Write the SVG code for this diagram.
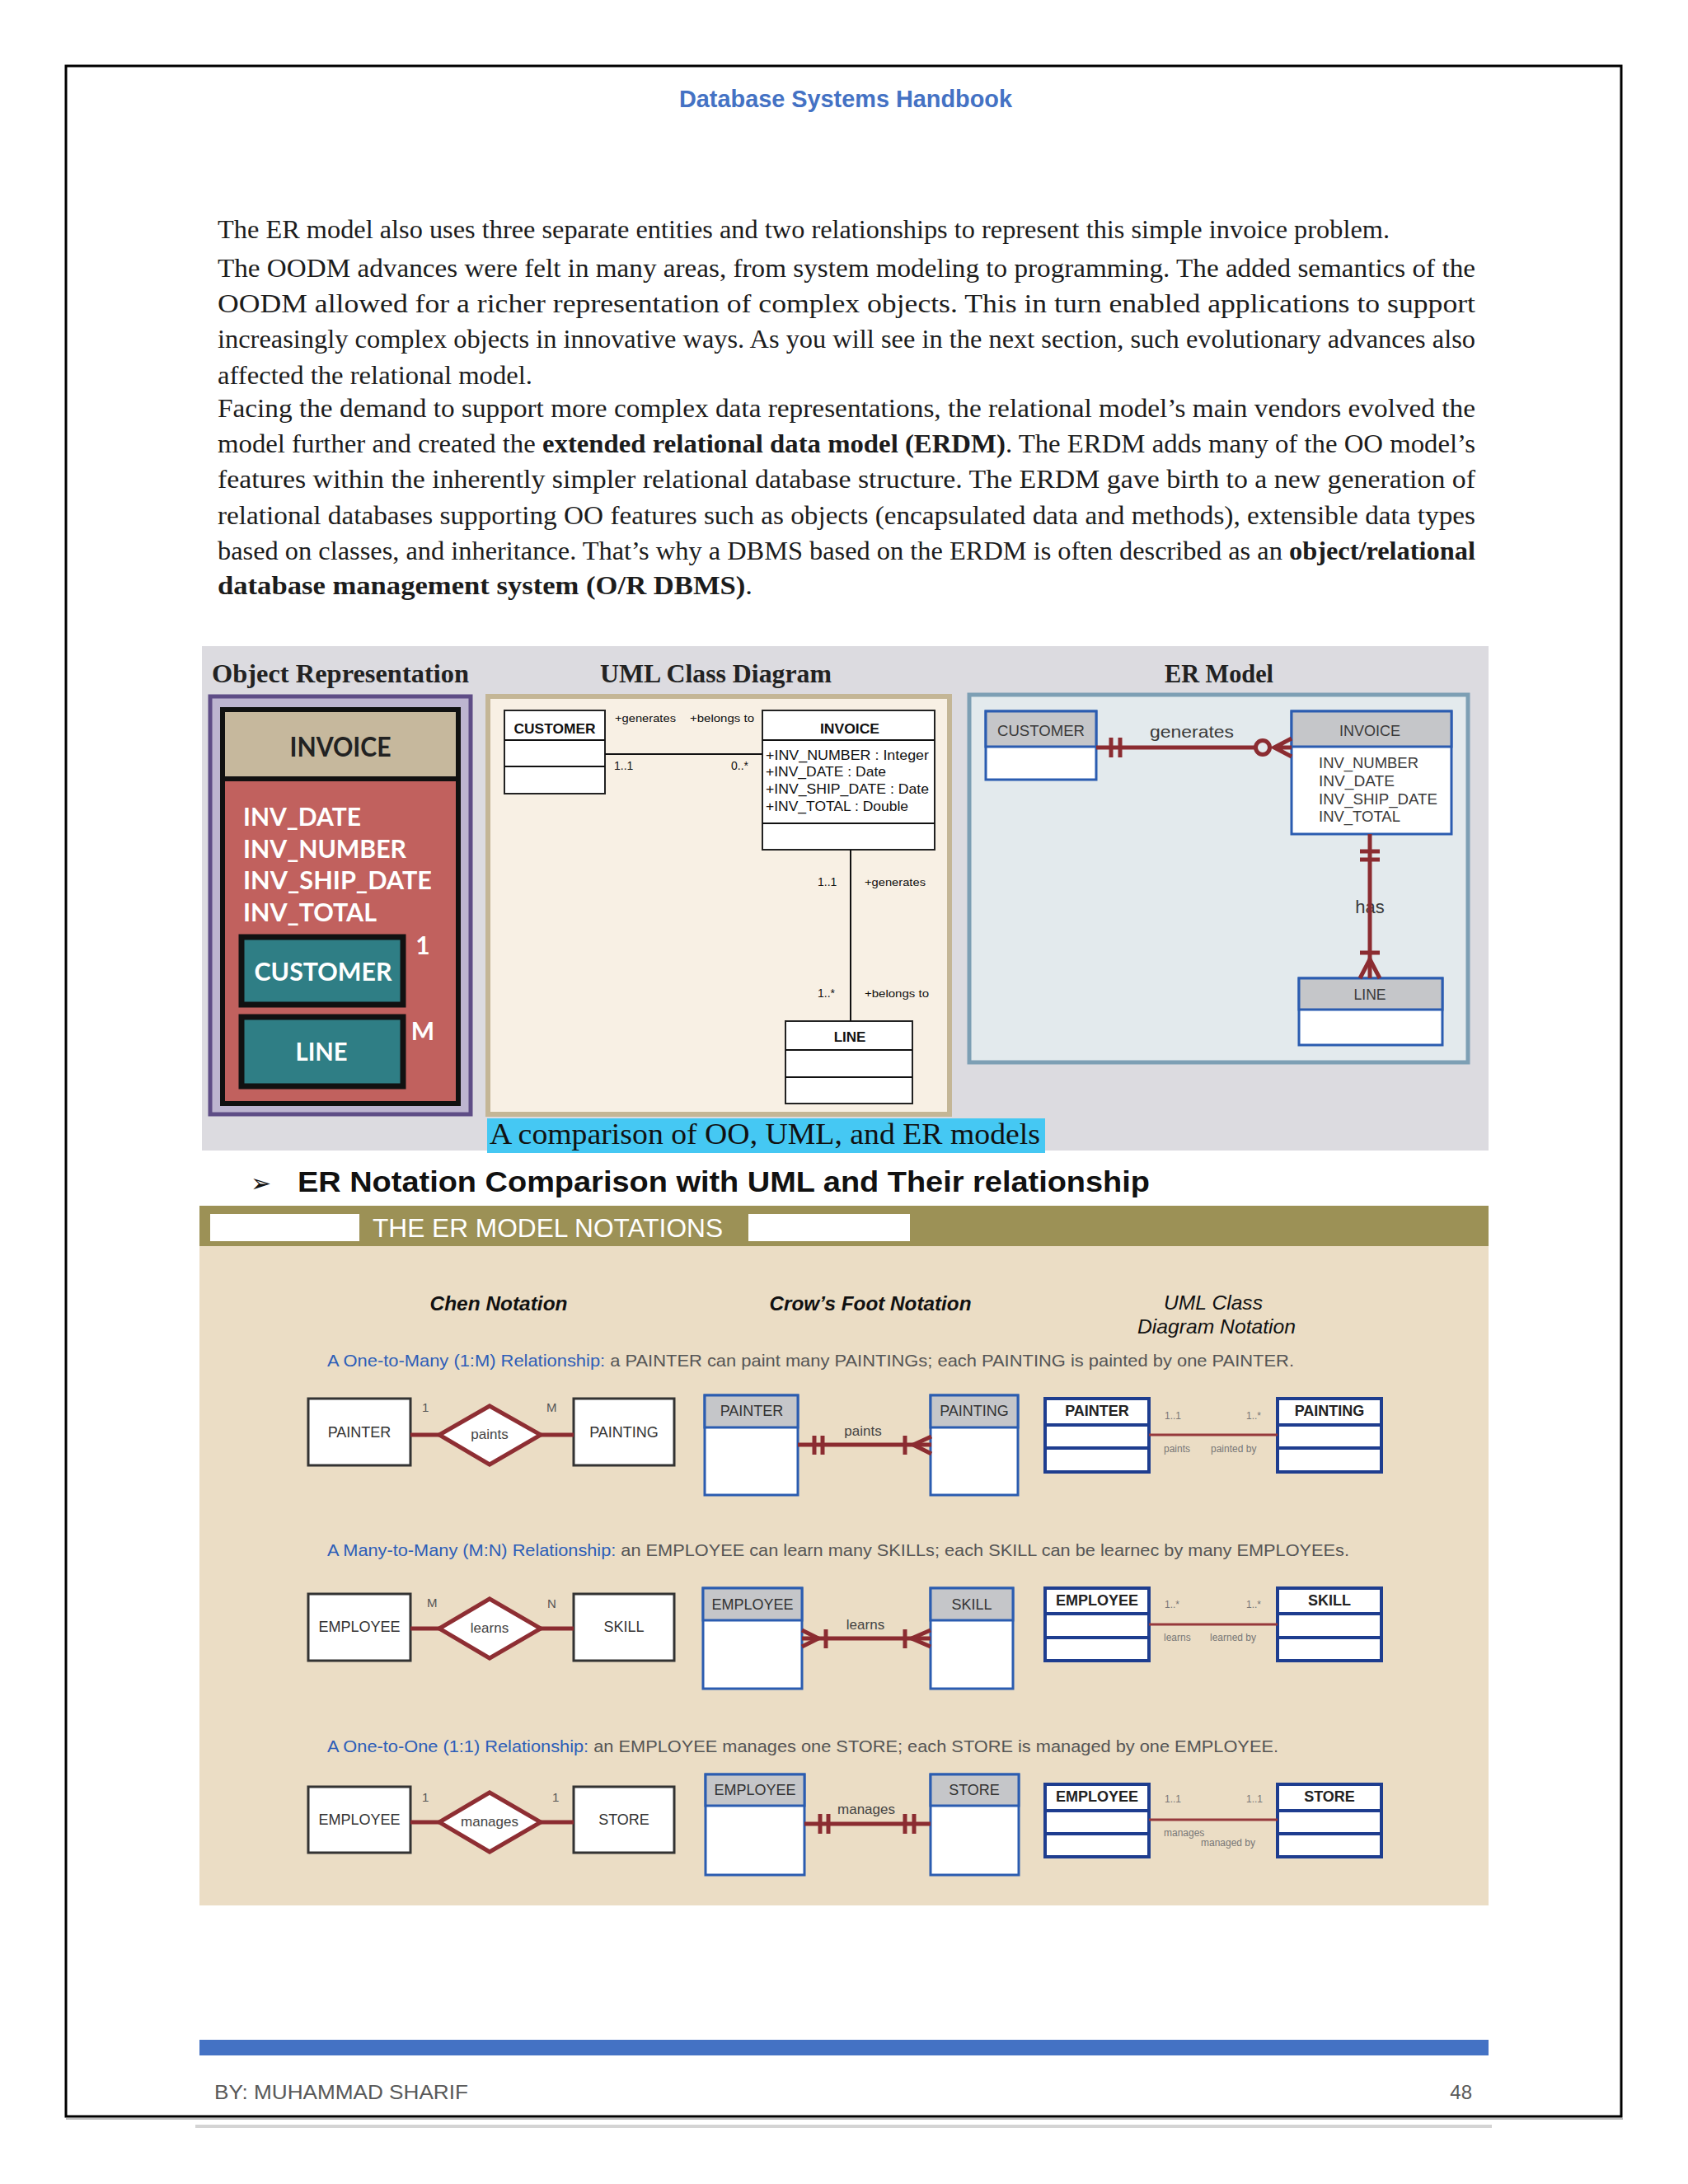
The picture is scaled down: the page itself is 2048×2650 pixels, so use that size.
<svg xmlns="http://www.w3.org/2000/svg" width="2048" height="2650" viewBox="0 0 2048 2650">
<style>
.pg{font-family:"Liberation Serif","Times New Roman",serif;font-size:31px;fill:#1c1c1c}
.b{font-weight:bold}
.sn{font-family:"Liberation Sans",Arial,sans-serif}
.opt{font-family:Lato,"Open Sans","Liberation Sans",sans-serif;fill:#fff;font-weight:bold}
.ttl{font-family:"Liberation Serif","Times New Roman",serif;font-size:32px;font-weight:bold;fill:#222}
.uml{font-family:"Liberation Sans",Arial,sans-serif;fill:#111}
.er{font-family:"Liberation Sans",Arial,sans-serif;fill:#3a3a3a}
.ln{stroke:#8B2C31;stroke-width:5;fill:none}
.lnt{stroke:#96393C;stroke-width:3;fill:none}
.blk{stroke:#111;stroke-width:2;fill:none}
.chen{fill:#fff;stroke:#333;stroke-width:3}
.dia{fill:#fff;stroke:#8E2E33;stroke-width:5}
.cf{fill:#fff;stroke:#2B5CB0;stroke-width:3}
.cfh{fill:#C5C6C9;stroke:#2B5CB0;stroke-width:3}
.um{fill:#fff;stroke:#1E3D8F;stroke-width:4}
.ent{font-family:"Liberation Sans",Arial,sans-serif;font-size:18px;fill:#333;text-anchor:middle}
.rel{font-family:"Liberation Sans",Arial,sans-serif;font-size:17px;fill:#444;text-anchor:middle}
.card{font-family:"Liberation Sans",Arial,sans-serif;font-size:15px;fill:#555}
.umh{font-family:"Liberation Sans",Arial,sans-serif;font-size:18px;font-weight:bold;fill:#222;text-anchor:middle}
.sm{font-family:"Liberation Sans",Arial,sans-serif;font-size:12px;fill:#777}
.desc{font-family:"Liberation Sans",Arial,sans-serif;font-size:21px;fill:#555}
.blue{fill:#2D5DB8}
.colh{font-family:"Liberation Sans",Arial,sans-serif;font-size:24px;font-style:italic;fill:#111;text-anchor:middle}
</style>
<rect x="0" y="0" width="2048" height="2650" fill="#fff"/>
<g id="page">
<rect x="80" y="80" width="1887" height="2488" fill="none" stroke="#000" stroke-width="3"/>
<line x1="80" y1="2571" x2="1969" y2="2571" stroke="#bbb" stroke-width="2"/>
<line x1="237" y1="2580" x2="1810" y2="2580" stroke="#d4d4d4" stroke-width="4"/>
<text x="1026" y="130" text-anchor="middle" font-family="Liberation Sans, Arial, sans-serif" font-size="30" font-weight="bold" fill="#4472C4" textLength="404" lengthAdjust="spacingAndGlyphs">Database Systems Handbook</text>
<rect x="242" y="2475" width="1564" height="19" fill="#4472C4"/>
<text x="260" y="2547" font-family="Liberation Sans, Arial, sans-serif" font-size="24" fill="#595959" textLength="308" lengthAdjust="spacingAndGlyphs">BY: MUHAMMAD SHARIF</text>
<text x="1786" y="2547" text-anchor="end" font-family="Liberation Sans, Arial, sans-serif" font-size="24" fill="#595959">48</text>
</g>
<g id="body-text">
<text class="pg" x="264" y="289" textLength="1422" lengthAdjust="spacingAndGlyphs">The ER model also uses three separate entities and two relationships to represent this simple invoice problem.</text>
<text class="pg" x="264" y="336" textLength="1526" lengthAdjust="spacingAndGlyphs">The OODM advances were felt in many areas, from system modeling to programming. The added semantics of the</text>
<text class="pg" x="264" y="379" textLength="1526" lengthAdjust="spacingAndGlyphs">OODM allowed for a richer representation of complex objects. This in turn enabled applications to support</text>
<text class="pg" x="264" y="422" textLength="1526" lengthAdjust="spacingAndGlyphs">increasingly complex objects in innovative ways. As you will see in the next section, such evolutionary advances also</text>
<text class="pg" x="264" y="466" textLength="382" lengthAdjust="spacingAndGlyphs">affected the relational model.</text>
<text class="pg" x="264" y="506" textLength="1526" lengthAdjust="spacingAndGlyphs">Facing the demand to support more complex data representations, the relational model’s main vendors evolved the</text>
<text class="pg" x="264" y="549" textLength="1526" lengthAdjust="spacingAndGlyphs">model further and created the <tspan class="b">extended relational data model (ERDM)</tspan>. The ERDM adds many of the OO model’s</text>
<text class="pg" x="264" y="592" textLength="1526" lengthAdjust="spacingAndGlyphs">features within the inherently simpler relational database structure. The ERDM gave birth to a new generation of</text>
<text class="pg" x="264" y="636" textLength="1526" lengthAdjust="spacingAndGlyphs">relational databases supporting OO features such as objects (encapsulated data and methods), extensible data types</text>
<text class="pg" x="264" y="679" textLength="1526" lengthAdjust="spacingAndGlyphs">based on classes, and inheritance. That’s why a DBMS based on the ERDM is often described as an <tspan class="b">object/relational</tspan></text>
<text class="pg" x="264" y="721" textLength="649" lengthAdjust="spacingAndGlyphs"><tspan class="b">database management system (O/R DBMS)</tspan>.</text>
</g>
<g id="figure1">
<rect x="245" y="784" width="1561" height="612" fill="#DCDBE0"/>
<text class="ttl" x="257" y="828" textLength="312" lengthAdjust="spacingAndGlyphs">Object Representation</text>
<text class="ttl" x="728" y="828" textLength="281" lengthAdjust="spacingAndGlyphs">UML Class Diagram</text>
<text class="ttl" x="1413" y="828" textLength="132" lengthAdjust="spacingAndGlyphs">ER Model</text>
</g>
<g id="obj-panel">
<rect x="255" y="845" width="316" height="507" fill="#BDB5D0" stroke="#5E4D86" stroke-width="5"/>
<rect x="270" y="861" width="286" height="478" fill="#C1615E" stroke="#111" stroke-width="6"/>
<rect x="270" y="861" width="286" height="84" fill="#C6B89D" stroke="#111" stroke-width="6"/>
<text x="413" y="918" text-anchor="middle" font-family="Lato, Open Sans, sans-serif" font-size="33" font-weight="bold" fill="#222" textLength="123" lengthAdjust="spacingAndGlyphs">INVOICE</text>
<text class="opt" x="295" y="1002" font-size="31" textLength="143" lengthAdjust="spacingAndGlyphs">INV_DATE</text>
<text class="opt" x="295" y="1041" font-size="31" textLength="198" lengthAdjust="spacingAndGlyphs">INV_NUMBER</text>
<text class="opt" x="295" y="1079" font-size="31" textLength="229" lengthAdjust="spacingAndGlyphs">INV_SHIP_DATE</text>
<text class="opt" x="295" y="1118" font-size="31" textLength="162" lengthAdjust="spacingAndGlyphs">INV_TOTAL</text>
<text class="opt" x="513" y="1158" font-size="30" text-anchor="middle">1</text>
<text class="opt" x="513" y="1262" font-size="30" text-anchor="middle">M</text>
</g>
<g id="obj-customer">
<rect x="293" y="1137" width="196" height="82" fill="#2F7E85" stroke="#111" stroke-width="7"/>
<text class="opt" x="392" y="1190" font-size="31" text-anchor="middle" textLength="167" lengthAdjust="spacingAndGlyphs">CUSTOMER</text>
</g>
<g id="obj-line">
<rect x="293" y="1234" width="196" height="84" fill="#2F7E85" stroke="#111" stroke-width="7"/>
<text class="opt" x="390" y="1287" font-size="31" text-anchor="middle" textLength="63" lengthAdjust="spacingAndGlyphs">LINE</text>
</g>
<g id="uml-panel">
<rect x="592" y="845" width="560" height="507" fill="#F8F0E4" stroke="#C4B696" stroke-width="6"/>
</g>
<g id="uml-customer">
<rect x="612" y="862" width="122" height="101" fill="#fff" stroke="#222" stroke-width="2"/>
<line x1="612" y1="898" x2="734" y2="898" class="blk"/>
<line x1="612" y1="930" x2="734" y2="930" class="blk"/>
<text class="uml" x="673" y="890" font-size="17" font-weight="bold" text-anchor="middle" textLength="99" lengthAdjust="spacingAndGlyphs">CUSTOMER</text>
</g>
<g id="uml-invoice">
<rect x="925" y="862" width="209" height="169" fill="#fff" stroke="#222" stroke-width="2"/>
<line x1="925" y1="898" x2="1134" y2="898" class="blk"/>
<line x1="925" y1="999" x2="1134" y2="999" class="blk"/>
<text class="uml" x="1031" y="890" font-size="17" font-weight="bold" text-anchor="middle" textLength="72" lengthAdjust="spacingAndGlyphs">INVOICE</text>
<text class="uml" x="929" y="922" font-size="17" textLength="198" lengthAdjust="spacingAndGlyphs">+INV_NUMBER : Integer</text>
<text class="uml" x="929" y="942" font-size="17" textLength="146" lengthAdjust="spacingAndGlyphs">+INV_DATE : Date</text>
<text class="uml" x="929" y="963" font-size="17" textLength="198" lengthAdjust="spacingAndGlyphs">+INV_SHIP_DATE : Date</text>
<text class="uml" x="929" y="984" font-size="17" textLength="173" lengthAdjust="spacingAndGlyphs">+INV_TOTAL : Double</text>
</g>
<g id="uml-line">
<rect x="953" y="1239" width="154" height="100" fill="#fff" stroke="#222" stroke-width="2"/>
<line x1="953" y1="1274" x2="1107" y2="1274" class="blk"/>
<line x1="953" y1="1307" x2="1107" y2="1307" class="blk"/>
<text class="uml" x="1031" y="1264" font-size="17" font-weight="bold" text-anchor="middle">LINE</text>
</g>
<g id="er-panel">
<rect x="1176" y="843" width="605" height="446" fill="#E3EAED" stroke="#7D9FB4" stroke-width="5"/>
</g>
<g id="er-customer">
<rect x="1196" y="863" width="134" height="83" class="cf" stroke="#2350A0"/>
<rect x="1196" y="863" width="134" height="43" class="cfh" stroke="#2350A0"/>
<text class="er" x="1263" y="893" font-size="19" text-anchor="middle" textLength="106" lengthAdjust="spacingAndGlyphs">CUSTOMER</text>
</g>
<g id="er-invoice">
<rect x="1567" y="863" width="194" height="149" class="cf" stroke="#2350A0"/>
<rect x="1567" y="863" width="194" height="43" class="cfh" stroke="#2350A0"/>
<text class="er" x="1662" y="893" font-size="19" text-anchor="middle" textLength="74" lengthAdjust="spacingAndGlyphs">INVOICE</text>
<text class="er" x="1600" y="932" font-size="18" textLength="121" lengthAdjust="spacingAndGlyphs">INV_NUMBER</text>
<text class="er" x="1600" y="954" font-size="18" textLength="92" lengthAdjust="spacingAndGlyphs">INV_DATE</text>
<text class="er" x="1600" y="976" font-size="18" textLength="144" lengthAdjust="spacingAndGlyphs">INV_SHIP_DATE</text>
<text class="er" x="1600" y="997" font-size="18" textLength="99" lengthAdjust="spacingAndGlyphs">INV_TOTAL</text>
</g>
<g id="er-line">
<rect x="1576" y="1187" width="174" height="81" class="cf" stroke="#2350A0"/>
<rect x="1576" y="1187" width="174" height="38" class="cfh" stroke="#2350A0"/>
<text class="er" x="1662" y="1213" font-size="18" text-anchor="middle" textLength="39" lengthAdjust="spacingAndGlyphs">LINE</text>
</g>
<g id="caption">
<rect x="591" y="1357" width="677" height="42" fill="#45C8F3"/>
<text x="594" y="1388" font-family="Liberation Serif, Times New Roman, serif" font-size="36" fill="#111" textLength="668" lengthAdjust="spacingAndGlyphs">A comparison of OO, UML, and ER models</text>
</g>
<g id="heading">
<text x="304" y="1446" font-family="DejaVu Sans, sans-serif" font-size="30" fill="#111">➢</text>
<text x="361" y="1446" font-family="Liberation Sans, Arial, sans-serif" font-size="35" font-weight="bold" fill="#111" textLength="1034" lengthAdjust="spacingAndGlyphs">ER Notation Comparison with UML and Their relationship</text>
</g>
<g id="notations-panel">
<rect x="242" y="1463" width="1564" height="49" fill="#9C9156"/>
<rect x="255" y="1473" width="181" height="33" fill="#fff"/>
<rect x="908" y="1473" width="196" height="33" fill="#fff"/>
<text x="452" y="1501" font-family="Liberation Sans, Arial, sans-serif" font-size="31" fill="#fff" textLength="425" lengthAdjust="spacingAndGlyphs">THE ER MODEL NOTATIONS</text>
<rect x="242" y="1512" width="1564" height="800" fill="#EBDDC5"/>
<text class="colh" x="605" y="1590" font-weight="bold" textLength="167" lengthAdjust="spacingAndGlyphs">Chen Notation</text>
<text class="colh" x="1056" y="1590" font-weight="bold" textLength="245" lengthAdjust="spacingAndGlyphs">Crow’s Foot Notation</text>
<text class="colh" x="1472" y="1589" textLength="120" lengthAdjust="spacingAndGlyphs">UML Class</text>
<text class="colh" x="1476" y="1618" textLength="192" lengthAdjust="spacingAndGlyphs">Diagram Notation</text>
<text class="desc" x="397" y="1658" textLength="1173" lengthAdjust="spacingAndGlyphs"><tspan class="blue">A One-to-Many (1:M) Relationship:</tspan> a PAINTER can paint many PAINTINGs; each PAINTING is painted by one PAINTER.</text>
<text class="desc" x="397" y="1888" textLength="1240" lengthAdjust="spacingAndGlyphs"><tspan class="blue">A Many-to-Many (M:N) Relationship:</tspan> an EMPLOYEE can learn many SKILLs; each SKILL can be learnec by many EMPLOYEEs.</text>
<text class="desc" x="397" y="2126" textLength="1154" lengthAdjust="spacingAndGlyphs"><tspan class="blue">A One-to-One (1:1) Relationship:</tspan> an EMPLOYEE manages one STORE; each STORE is managed by one EMPLOYEE.</text>
</g>
<g id="chen-painter"><rect class="chen" x="374" y="1697" width="124" height="81"/><text class="ent" x="436" y="1744">PAINTER</text></g>
<g id="chen-paints"><polygon class="dia" points="533,1741 594,1706 656,1741 594,1777"/><text class="rel" x="594" y="1746">paints</text></g>
<g id="chen-painting"><rect class="chen" x="696" y="1697" width="122" height="81"/><text class="ent" x="757" y="1744">PAINTING</text></g>
<g id="cf-painter"><rect class="cf" x="855" y="1693" width="113" height="121"/><rect class="cfh" x="855" y="1693" width="113" height="39"/><text class="ent" x="912" y="1718">PAINTER</text></g>
<g id="cf-painting"><rect class="cf" x="1129" y="1693" width="106" height="121"/><rect class="cfh" x="1129" y="1693" width="106" height="39"/><text class="ent" x="1182" y="1718">PAINTING</text></g>
<g id="uml-painter"><rect class="um" x="1268" y="1697" width="126" height="89"/><line class="um" x1="1268" y1="1729" x2="1394" y2="1729"/><line class="um" x1="1268" y1="1757" x2="1394" y2="1757"/><text class="umh" x="1331" y="1718">PAINTER</text></g>
<g id="uml-painting"><rect class="um" x="1550" y="1697" width="126" height="89"/><line class="um" x1="1550" y1="1729" x2="1676" y2="1729"/><line class="um" x1="1550" y1="1757" x2="1676" y2="1757"/><text class="umh" x="1613" y="1718">PAINTING</text></g>
<g id="chen-employee-2"><rect class="chen" x="374" y="1934" width="124" height="81"/><text class="ent" x="436" y="1980">EMPLOYEE</text></g>
<g id="chen-learns"><polygon class="dia" points="533,1976 594,1940 656,1976 594,2012"/><text class="rel" x="594" y="1981">learns</text></g>
<g id="chen-skill"><rect class="chen" x="696" y="1934" width="122" height="81"/><text class="ent" x="757" y="1980">SKILL</text></g>
<g id="cf-employee-2"><rect class="cf" x="853" y="1927" width="120" height="122"/><rect class="cfh" x="853" y="1927" width="120" height="39"/><text class="ent" x="913" y="1953">EMPLOYEE</text></g>
<g id="cf-skill"><rect class="cf" x="1129" y="1927" width="100" height="122"/><rect class="cfh" x="1129" y="1927" width="100" height="39"/><text class="ent" x="1179" y="1953">SKILL</text></g>
<g id="uml-employee-2"><rect class="um" x="1268" y="1927" width="126" height="88"/><line class="um" x1="1268" y1="1958" x2="1394" y2="1958"/><line class="um" x1="1268" y1="1987" x2="1394" y2="1987"/><text class="umh" x="1331" y="1948">EMPLOYEE</text></g>
<g id="uml-skill"><rect class="um" x="1550" y="1927" width="126" height="88"/><line class="um" x1="1550" y1="1958" x2="1676" y2="1958"/><line class="um" x1="1550" y1="1987" x2="1676" y2="1987"/><text class="umh" x="1613" y="1948">SKILL</text></g>
<g id="chen-employee-3"><rect class="chen" x="374" y="2168" width="124" height="80"/><text class="ent" x="436" y="2214">EMPLOYEE</text></g>
<g id="chen-manages"><polygon class="dia" points="533,2211 594,2175 656,2211 594,2247"/><text class="rel" x="594" y="2216">manages</text></g>
<g id="chen-store"><rect class="chen" x="696" y="2168" width="122" height="80"/><text class="ent" x="757" y="2214">STORE</text></g>
<g id="cf-employee-3"><rect class="cf" x="856" y="2153" width="120" height="122"/><rect class="cfh" x="856" y="2153" width="120" height="38"/><text class="ent" x="916" y="2178">EMPLOYEE</text></g>
<g id="cf-store"><rect class="cf" x="1129" y="2153" width="107" height="122"/><rect class="cfh" x="1129" y="2153" width="107" height="38"/><text class="ent" x="1182" y="2178">STORE</text></g>
<g id="uml-employee-3"><rect class="um" x="1268" y="2165" width="126" height="88"/><line class="um" x1="1268" y1="2197" x2="1394" y2="2197"/><line class="um" x1="1268" y1="2225" x2="1394" y2="2225"/><text class="umh" x="1331" y="2186">EMPLOYEE</text></g>
<g id="uml-store"><rect class="um" x="1550" y="2165" width="126" height="88"/><line class="um" x1="1550" y1="2197" x2="1676" y2="2197"/><line class="um" x1="1550" y1="2225" x2="1676" y2="2225"/><text class="umh" x="1613" y="2186">STORE</text></g>
<g id="connectors">
<line class="blk" x1="734" y1="915" x2="925" y2="915"/>
<line class="blk" x1="1032" y1="1031" x2="1032" y2="1239"/>
<text class="uml" x="746" y="876" font-size="13" textLength="74" lengthAdjust="spacingAndGlyphs">+generates</text>
<text class="uml" x="837" y="876" font-size="13" textLength="78" lengthAdjust="spacingAndGlyphs">+belongs to</text>
<text class="uml" x="745" y="934" font-size="14">1..1</text>
<text class="uml" x="887" y="934" font-size="14">0..*</text>
<text class="uml" x="992" y="1075" font-size="14">1..1</text>
<text class="uml" x="1049" y="1075" font-size="13" textLength="74" lengthAdjust="spacingAndGlyphs">+generates</text>
<text class="uml" x="992" y="1210" font-size="14">1..*</text>
<text class="uml" x="1049" y="1210" font-size="13" textLength="78" lengthAdjust="spacingAndGlyphs">+belongs to</text>
<text class="er" x="1446" y="895" font-size="21" text-anchor="middle" textLength="102" lengthAdjust="spacingAndGlyphs">generates</text>
<line class="ln" x1="1330" y1="907" x2="1523" y2="907"/>
<line class="ln" x1="1348" y1="895" x2="1348" y2="919"/>
<line class="ln" x1="1359" y1="895" x2="1359" y2="919"/>
<circle cx="1532" cy="907" r="8.5" fill="#E3EAED" stroke="#8B2C31" stroke-width="5"/>
<path class="ln" d="M1567,896 L1546,907 L1567,918 M1546,907 L1567,907"/>
<text class="er" x="1662" y="1108" font-size="22" text-anchor="middle">has</text>
<line class="ln" x1="1662" y1="1012" x2="1662" y2="1187"/>
<line class="ln" x1="1650" y1="1033" x2="1674" y2="1033"/>
<line class="ln" x1="1650" y1="1043" x2="1674" y2="1043"/>
<line class="ln" x1="1650" y1="1156" x2="1674" y2="1156"/>
<path class="ln" d="M1650,1187 L1662,1164 L1674,1187"/>
<line class="ln" x1="498" y1="1741" x2="533" y2="1741"/>
<line class="ln" x1="656" y1="1741" x2="696" y2="1741"/>
<text class="card" x="512" y="1713">1</text>
<text class="card" x="663" y="1713">M</text>
<line class="ln" x1="968" y1="1753" x2="1130" y2="1753"/>
<line class="ln" x1="988" y1="1742" x2="988" y2="1765"/>
<line class="ln" x1="998" y1="1742" x2="998" y2="1765"/>
<line class="ln" x1="1098" y1="1742" x2="1098" y2="1765"/>
<path class="ln" d="M1130,1743 L1108,1753 L1130,1764"/>
<text class="rel" x="1047" y="1742">paints</text>
<line class="lnt" x1="1394" y1="1741" x2="1550" y2="1741"/>
<text class="sm" x="1413" y="1722">1..1</text>
<text class="sm" x="1512" y="1722">1..*</text>
<text class="sm" x="1412" y="1762">paints</text>
<text class="sm" x="1469" y="1762">painted by</text>
<line class="ln" x1="498" y1="1976" x2="533" y2="1976"/>
<line class="ln" x1="656" y1="1976" x2="696" y2="1976"/>
<text class="card" x="518" y="1950">M</text>
<text class="card" x="664" y="1951">N</text>
<line class="ln" x1="973" y1="1988" x2="1129" y2="1988"/>
<path class="ln" d="M973,1978 L993,1988 L973,1998"/>
<line class="ln" x1="1002" y1="1977" x2="1002" y2="2000"/>
<line class="ln" x1="1098" y1="1977" x2="1098" y2="2000"/>
<path class="ln" d="M1129,1978 L1106,1988 L1129,1998"/>
<text class="rel" x="1050" y="1977">learns</text>
<line class="lnt" x1="1394" y1="1971" x2="1550" y2="1971"/>
<text class="sm" x="1413" y="1951">1..*</text>
<text class="sm" x="1512" y="1951">1..*</text>
<text class="sm" x="1412" y="1991">learns</text>
<text class="sm" x="1468" y="1991">learned by</text>
<line class="ln" x1="498" y1="2211" x2="533" y2="2211"/>
<line class="ln" x1="656" y1="2211" x2="696" y2="2211"/>
<text class="card" x="512" y="2186">1</text>
<text class="card" x="670" y="2186">1</text>
<line class="ln" x1="976" y1="2213" x2="1129" y2="2213"/>
<line class="ln" x1="995" y1="2201" x2="995" y2="2225"/>
<line class="ln" x1="1005" y1="2201" x2="1005" y2="2225"/>
<line class="ln" x1="1098" y1="2201" x2="1098" y2="2225"/>
<line class="ln" x1="1109" y1="2201" x2="1109" y2="2225"/>
<text class="rel" x="1051" y="2201">manages</text>
<line class="lnt" x1="1394" y1="2208" x2="1550" y2="2208"/>
<text class="sm" x="1413" y="2187">1..1</text>
<text class="sm" x="1512" y="2187">1..1</text>
<text class="sm" x="1412" y="2228">manages</text>
<text class="sm" x="1457" y="2240">managed by</text>
</g>
</svg>
